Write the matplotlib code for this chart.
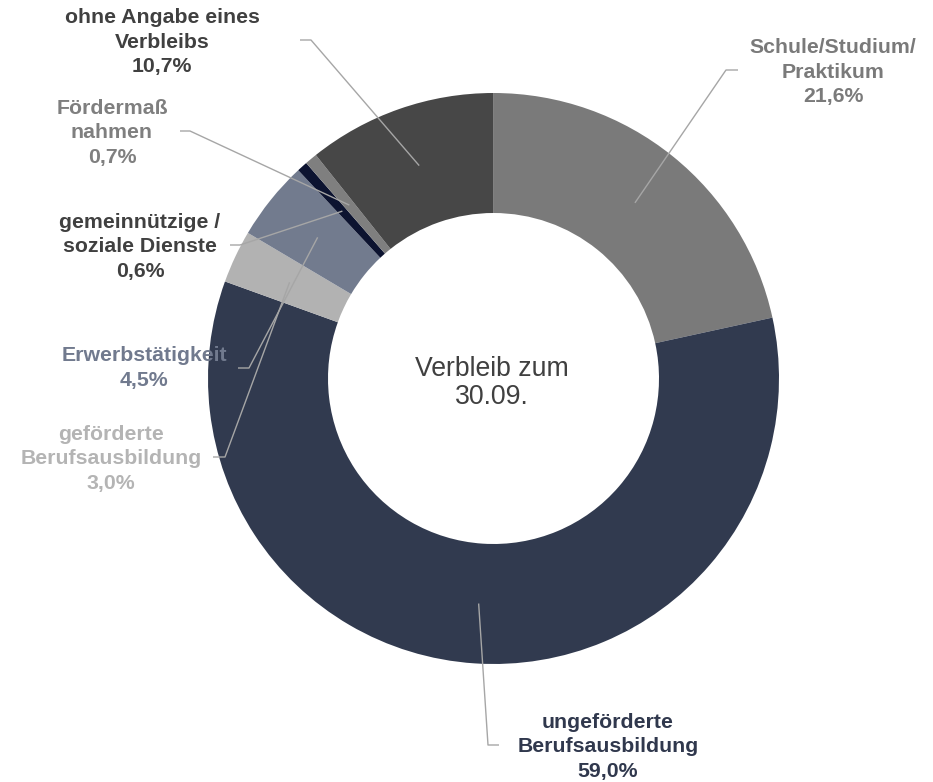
import numpy as np
import matplotlib
matplotlib.use("Agg")
import matplotlib.pyplot as plt

# ---- data ----
categories = ["Schule/Studium/\nPraktikum", "ungeförderte\nBerufsausbildung",
              "geförderte\nBerufsausbildung", "Erwerbstätigkeit",
              "gemeinnützige /\nsoziale Dienste", "Fördermaß\nnahmen",
              "ohne Angabe eines\nVerbleibs"]
values = [21.6, 59.0, 3.0, 4.5, 0.6, 0.7, 10.7]
value_labels = ["21,6%", "59,0%", "3,0%", "4,5%", "0,6%", "0,7%", "10,7%"]
slice_colors = ["#7a7a7a", "#313a4f", "#b2b2b2", "#727b8e", "#0c1330", "#7f7f7f", "#474747"]
text_colors = ["#7a7a7a", "#30384d", "#b4b4b4", "#717a8e", "#404040", "#7f7f7f", "#404040"]
center_text = "Verbleib zum\n30.09."

# ---- layout (pixel coords, y from top) ----
W, H = 933, 782
cx, cy = 493.5, 378.5
R_out, ring_w = 285.5, 120.0
label_pos = [(833, 72), (608, 747), (111, 459), (144, 368), (140, 247), (112, 133), (162, 42)]
elbow_start = [(738, 70), (499, 745), (213, 457), (238, 368), (230, 245), (180, 131), (300, 40)]
elbow_knee = [(726, 70), (488, 745), (225, 457), (249, 368), (240, 245), (190, 131), (311, 40)]

fy = lambda y: H - y

fig = plt.figure(figsize=(W / 100, H / 100), dpi=100)
ax = fig.add_axes([0, 0, 1, 1])
wedges, _ = ax.pie(values, colors=slice_colors, startangle=90, counterclock=False,
                   center=(cx, fy(cy)), radius=R_out,
                   wedgeprops=dict(width=ring_w, linewidth=0))
ax.set_xlim(0, W)
ax.set_ylim(0, H)
ax.set_aspect("equal")
ax.axis("off")

r_mid = R_out - ring_w / 2
for i, w in enumerate(wedges):
    ang = np.deg2rad((w.theta1 + w.theta2) / 2)
    ex, ey = cx + r_mid * np.cos(ang), fy(cy) + r_mid * np.sin(ang)
    sx, sy = elbow_start[i]
    kx, ky = elbow_knee[i]
    ax.plot([sx, kx, ex], [fy(sy), fy(ky), ey], color="#a6a6a6", lw=1.0,
            solid_capstyle="butt", zorder=3)
    lx, ly = label_pos[i]
    ax.text(lx, fy(ly), categories[i] + "\n" + value_labels[i], ha="center", va="center",
            multialignment="center", fontsize=15.3, fontweight="bold",
            family="Liberation Sans", color=text_colors[i], linespacing=1.36, zorder=4)

ax.text(cx - 2, fy(383), center_text, ha="center", va="center", multialignment="center",
        fontsize=19.2, family="Liberation Sans", color="#404040", linespacing=1.1)

fig.savefig("out.png", dpi=100)
